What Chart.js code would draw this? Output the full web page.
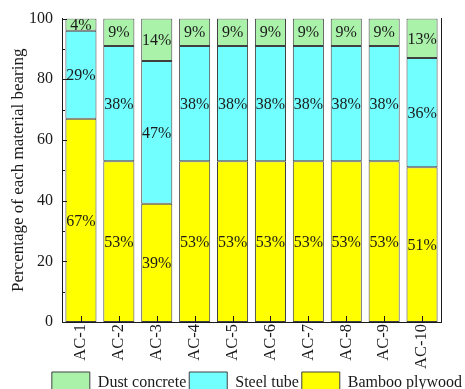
<!DOCTYPE html>
<html>
<head>
<meta charset="utf-8">
<script src="https://cdn.jsdelivr.net/npm/chart.js@4/dist/chart.umd.min.js"></script>
<style>
  html, body { margin: 0; padding: 0; background: #ffffff; }
  canvas { display: block; }
</style>
</head>
<body>
<canvas id="chart" width="465" height="389"></canvas>
<script>
// Share of load carried by each material, per specimen (percent)
const categories = ['AC-1', 'AC-2', 'AC-3', 'AC-4', 'AC-5', 'AC-6', 'AC-7', 'AC-8', 'AC-9', 'AC-10'];
const bambooPlywood = [67, 53, 39, 53, 53, 53, 53, 53, 53, 51];
const steelTube     = [29, 38, 47, 38, 38, 38, 38, 38, 38, 36];
const dustConcrete  = [4, 9, 14, 9, 9, 9, 9, 9, 9, 13];
const seriesNames   = ['Bamboo plywood', 'Steel tube', 'Dust concrete'];
const yTickStep = 20;

const SERIF = "'Liberation Serif', 'Times New Roman', Times, serif";
const INK = '#1a1a1a';
const EDGE = '#404040';

// Ticks that point into the plot area (major + minor on y, one per category on x)
const innerTicks = {
  id: 'innerTicks',
  afterDatasetsDraw(chart) {
    const { ctx, chartArea, scales: { x, y } } = chart;
    ctx.save();
    ctx.strokeStyle = INK;
    ctx.lineWidth = 1;
    ctx.beginPath();
    y.ticks.forEach((t, i) => {
      const py = Math.round(y.getPixelForValue(t.value)) + 0.5;
      ctx.moveTo(chartArea.left, py);
      ctx.lineTo(chartArea.left + 5, py);
      if (i < y.ticks.length - 1) {
        const mid = (t.value + y.ticks[i + 1].value) / 2;
        const pm = Math.round(y.getPixelForValue(mid)) + 0.5;
        ctx.moveTo(chartArea.left, pm);
        ctx.lineTo(chartArea.left + 3, pm);
      }
    });
    x.ticks.forEach((t, i) => {
      const px = Math.round(x.getPixelForTick(i)) + 0.5;
      ctx.moveTo(px, chartArea.bottom);
      ctx.lineTo(px, chartArea.bottom - 6);
    });
    ctx.stroke();
    ctx.restore();
  }
};

// Percentage written in the middle of each stacked segment
const segmentLabels = {
  id: 'segmentLabels',
  afterDatasetsDraw(chart) {
    const { ctx } = chart;
    ctx.save();
    ctx.font = '16px ' + SERIF;
    ctx.fillStyle = INK;
    ctx.textAlign = 'center';
    ctx.textBaseline = 'middle';
    chart.data.datasets.forEach((ds, di) => {
      const meta = chart.getDatasetMeta(di);
      meta.data.forEach((bar, i) => {
        const v = ds.data[i];
        ctx.fillText(v + '%', bar.x, (bar.y + bar.base) / 2 + 1);
      });
    });
    ctx.restore();
  }
};

const barStyle = { borderColor: EDGE, borderWidth: 1, borderSkipped: false, barPercentage: 0.82, categoryPercentage: 1.0 };

new Chart(document.getElementById('chart'), {
  type: 'bar',
  data: {
    labels: categories,
    datasets: [
      Object.assign({ label: seriesNames[0], data: bambooPlywood, backgroundColor: '#ffff00' }, barStyle),
      Object.assign({ label: seriesNames[1], data: steelTube, backgroundColor: '#72ffff' }, barStyle),
      Object.assign({ label: seriesNames[2], data: dustConcrete, backgroundColor: '#aaf2aa' }, barStyle)
    ]
  },
  options: {
    responsive: false,
    animation: false,
    layout: { padding: { left: 0, right: 0, top: 17, bottom: -15 } },
    plugins: {
      tooltip: { enabled: false },
      legend: {
        position: 'bottom',
        align: 'end',
        reverse: true,
        labels: {
          boxWidth: 38,
          boxHeight: 22,
          padding: 3,
          color: INK,
          font: { family: SERIF, size: 16 }
        }
      }
    },
    scales: {
      x: {
        stacked: true,
        grid: { display: false, drawTicks: false },
        border: { display: true, color: INK, width: 1 },
        ticks: {
          autoSkip: false,
          minRotation: 90,
          maxRotation: 90,
          padding: 2,
          color: INK,
          font: { family: SERIF, size: 16.5 }
        },
        afterFit(scale) { scale.height = 47; }
      },
      y: {
        stacked: true,
        min: 0,
        max: 100,
        grid: { display: false, drawTicks: false },
        border: { display: true, color: INK, width: 1 },
        ticks: {
          stepSize: yTickStep,
          padding: 9,
          color: INK,
          font: { family: SERIF, size: 16 }
        },
        title: {
          display: true,
          text: 'Percentage of each material bearing',
          color: INK,
          font: { family: SERIF, size: 17 },
          padding: { top: 8, bottom: 0 }
        },
        afterFit(scale) { scale.width = 62; }
      },
      yRight: {
        position: 'right',
        min: 0,
        max: 100,
        grid: { display: false, drawTicks: false },
        border: { display: true, color: INK, width: 1 },
        ticks: { display: false },
        afterFit(scale) { scale.width = 24; }
      }
    }
  },
  plugins: [innerTicks, segmentLabels]
});
</script>
</body>
</html>
